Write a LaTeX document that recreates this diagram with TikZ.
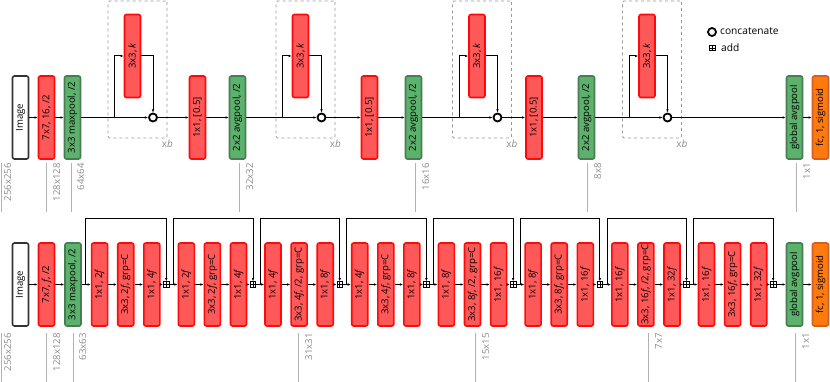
\documentclass[tikz,border=0pt]{standalone}
\usepackage{fontspec}
\setmainfont{Open Sans}
\usepackage{graphicx}
\usepackage{xcolor}
\usepackage{tikz}
\usetikzlibrary{arrows.meta, positioning, backgrounds, calc}

\definecolor{convfill}{RGB}{255,88,88}
\definecolor{convdraw}{RGB}{255,10,10}
\definecolor{poolfill}{RGB}{92,178,108}
\definecolor{pooldraw}{RGB}{72,125,84}
\definecolor{fcfill}{RGB}{255,122,14}
\definecolor{fcdraw}{RGB}{212,96,32}

\begin{document}
\begin{tikzpicture}[x=1pt, y=1pt, node distance=8.5pt]

\tikzset{
  layer/.style={rectangle, rounded corners=2pt, line width=1.6pt,
    minimum width=16pt, minimum height=83pt, inner sep=0pt,
    font=\fontsize{9.6}{10}\selectfont},
  convbox/.style={layer, draw=convdraw, fill=convfill},
  poolbox/.style={layer, draw=pooldraw, fill=poolfill},
  fcbox/.style={layer, draw=fcdraw, fill=fcfill},
  inputbox/.style={layer, draw=black!80, fill=white},
  catnode/.style={circle, draw=black, line width=1.8pt, fill=white,
    minimum size=8pt, inner sep=0pt},
  addnode/.style={rectangle, draw=black, line width=0.8pt, fill=white,
    minimum size=5.6pt, inner sep=0pt,
    path picture={\draw[line width=0.5pt]
      (path picture bounding box.north) -- (path picture bounding box.south)
      (path picture bounding box.west) -- (path picture bounding box.east);}},
  blockbox/.style={rectangle, draw=black!40, dashed, line width=0.8pt,
    rounded corners=1.5pt, minimum width=59pt, minimum height=137pt},
  blocklabel/.style={font=\fontsize{10}{11}\selectfont, text=black!45,
    anchor=north, inner sep=1.5pt},
  legendtext/.style={font=\fontsize{10.2}{11}\selectfont, anchor=west,
    inner sep=0pt},
  arrow/.style={-{Latex[length=3.2pt,width=2.6pt]}, line width=1pt, black},
  dimline/.style={draw=black!30, line width=0.8pt},
  dimlabel/.style={font=\fontsize{9.6}{10}\selectfont, text=black!45,
    rotate=90, anchor=north east, inner sep=0pt}
}

\useasboundingbox (0,0) rectangle (830,-382);

% ---- top row: DenseNet ----
\node[inputbox] (timg) at (20.5,-117.5) {\rotatebox{90}{Image}};
\node[convbox] (tconv) at (46.5,-117.5) {\rotatebox{90}{7x7, 16, /2}};
\node[poolbox] (tpool) at (72.5,-117.5) {\rotatebox{90}{3x3 maxpool, /2}};

\node[convbox] (tk1) at (132.5,-56) {\rotatebox{90}{3x3, \textit{k}}};
\node[catnode] (tcat1) at (153,-117.5) {};
\coordinate (tbr1) at (114.5,-117.5);
\node[convbox] (ttr1) at (197.5,-117.5) {\rotatebox{90}{1x1, [0.5]}};
\node[poolbox] (tap1) at (237.5,-117.5) {\rotatebox{90}{2x2 avgpool, /2}};

\node[convbox] (tk2) at (300.5,-56) {\rotatebox{90}{3x3, \textit{k}}};
\node[catnode] (tcat2) at (321.5,-117.5) {};
\coordinate (tbr2) at (282.5,-117.5);
\node[convbox] (ttr2) at (369.5,-117.5) {\rotatebox{90}{1x1, [0.5]}};
\node[poolbox] (tap2) at (413.5,-117.5) {\rotatebox{90}{2x2 avgpool, /2}};

\node[convbox] (tk3) at (477,-56) {\rotatebox{90}{3x3, \textit{k}}};
\node[catnode] (tcat3) at (497.5,-117.5) {};
\coordinate (tbr3) at (459,-117.5);
\node[convbox] (ttr3) at (534,-117.5) {\rotatebox{90}{1x1, [0.5]}};
\node[poolbox] (tap3) at (586.5,-117.5) {\rotatebox{90}{2x2 avgpool, /2}};

\node[convbox] (tk4) at (647,-56) {\rotatebox{90}{3x3, \textit{k}}};
\node[catnode] (tcat4) at (667.5,-117.5) {};
\coordinate (tbr4) at (629,-117.5);

\node[poolbox] (tgap) at (794.5,-117.5) {\rotatebox{90}{global avgpool}};
\node[fcbox] (tfc) at (820.5,-117.5) {\rotatebox{90}{fc, 1, sigmoid}};

\begin{scope}[on background layer]
  \node[blockbox] (tblk1) at (137.5,-69.5) {};
  \node[blockbox] (tblk2) at (305.5,-69.5) {};
  \node[blockbox] (tblk3) at (482,-69.5) {};
  \node[blockbox] (tblk4) at (652,-69.5) {};
\end{scope}
\node[blocklabel] (tlbl1) at (tblk1.south east) {x\textit{b}};
\node[blocklabel] (tlbl2) at (tblk2.south east) {x\textit{b}};
\node[blocklabel] (tlbl3) at (tblk3.south east) {x\textit{b}};
\node[blocklabel] (tlbl4) at (tblk4.south east) {x\textit{b}};

\draw[arrow] (timg)  -- (tconv);
\draw[arrow] (tconv) -- (tpool);
\draw[arrow] (tpool) -- (tcat1);
\draw[arrow] (tbr1)  |- (tk1);
\draw[arrow] (tk1)   -| (tcat1);
\draw[arrow] (tcat1) -- (ttr1);
\draw[arrow] (ttr1)  -- (tap1);
\draw[arrow] (tap1)  -- (tcat2);
\draw[arrow] (tbr2)  |- (tk2);
\draw[arrow] (tk2)   -| (tcat2);
\draw[arrow] (tcat2) -- (ttr2);
\draw[arrow] (ttr2)  -- (tap2);
\draw[arrow] (tap2)  -- (tcat3);
\draw[arrow] (tbr3)  |- (tk3);
\draw[arrow] (tk3)   -| (tcat3);
\draw[arrow] (tcat3) -- (ttr3);
\draw[arrow] (ttr3)  -- (tap3);
\draw[arrow] (tap3)  -- (tcat4);
\draw[arrow] (tbr4)  |- (tk4);
\draw[arrow] (tk4)   -| (tcat4);
\draw[arrow] (tcat4) -- (tgap);
\draw[arrow] (tgap)  -- (tfc);

% legend
\node[catnode] (lgcat) at (712,-32) {};
\node[legendtext] (lgcattxt) at (720,-31.5) {concatenate};
\node[addnode] (lgadd) at (712.5,-48) {};
\node[legendtext] (lgaddtxt) at (721,-47.5) {add};

% sizes, top row
\draw[dimline] (1,-163) -- (1,-212);
\draw[dimline] (46,-163) -- (46,-212);
\draw[dimline] (71,-163) -- (71,-212);
\draw[dimline] (239,-163) -- (239,-212);
\draw[dimline] (415,-163) -- (415,-212);
\draw[dimline] (587,-163) -- (587,-212);
\draw[dimline] (796,-163) -- (796,-212);
\node[dimlabel] (td1) at (4,-163)   {256x256};
\node[dimlabel] (td2) at (53,-163)  {128x128};
\node[dimlabel] (td3) at (77,-163)  {64x64};
\node[dimlabel] (td4) at (246,-163) {32x32};
\node[dimlabel] (td5) at (422,-163) {16x16};
\node[dimlabel] (td6) at (594,-163) {8x8};
\node[dimlabel] (td7) at (803,-163) {1x1};

% ---- bottom row: ResNeXt ----
\node[inputbox] (bimg) at (20.5,-284.5) {\rotatebox{90}{Image}};
\node[convbox] (bconv) at (46.5,-284.5) {\rotatebox{90}{7x7, \textit{f}, /2}};
\node[poolbox] (bpool) at (73,-284.5) {\rotatebox{90}{3x3 maxpool, /2}};

\node[convbox, right=9pt of bpool] (g1a) {\rotatebox{90}{1x1, 2\textit{f}}};
\node[convbox, right=of g1a] (g1b) {\rotatebox{90}{3x3, 2\textit{f}, grp=C}};
\node[convbox, right=of g1b] (g1c) {\rotatebox{90}{1x1, 4\textit{f}}};
\node[addnode, right=2.5pt of g1c] (add1) {};

\node[convbox, right=8pt of add1] (g2a) {\rotatebox{90}{1x1, 2\textit{f}}};
\node[convbox, right=of g2a] (g2b) {\rotatebox{90}{3x3, 2\textit{f}, grp=C}};
\node[convbox, right=of g2b] (g2c) {\rotatebox{90}{1x1, 4\textit{f}}};
\node[addnode, right=2.5pt of g2c] (add2) {};

\node[convbox, right=8pt of add2] (g3a) {\rotatebox{90}{1x1, 4\textit{f}}};
\node[convbox, right=of g3a] (g3b) {\rotatebox{90}{3x3, 4\textit{f}, /2, grp=C}};
\node[convbox, right=of g3b] (g3c) {\rotatebox{90}{1x1, 8\textit{f}}};
\node[addnode, right=2.5pt of g3c] (add3) {};

\node[convbox, right=8pt of add3] (g4a) {\rotatebox{90}{1x1, 4\textit{f}}};
\node[convbox, right=of g4a] (g4b) {\rotatebox{90}{3x3, 4\textit{f}, grp=C}};
\node[convbox, right=of g4b] (g4c) {\rotatebox{90}{1x1, 8\textit{f}}};
\node[addnode, right=2.5pt of g4c] (add4) {};

\node[convbox, right=8pt of add4] (g5a) {\rotatebox{90}{1x1, 8\textit{f}}};
\node[convbox, right=of g5a] (g5b) {\rotatebox{90}{3x3, 8\textit{f}, /2, grp=C}};
\node[convbox, right=of g5b] (g5c) {\rotatebox{90}{1x1, 16\textit{f}}};
\node[addnode, right=2.5pt of g5c] (add5) {};

\node[convbox, right=8pt of add5] (g6a) {\rotatebox{90}{1x1, 8\textit{f}}};
\node[convbox, right=of g6a] (g6b) {\rotatebox{90}{3x3, 8\textit{f}, grp=C}};
\node[convbox, right=of g6b] (g6c) {\rotatebox{90}{1x1, 16\textit{f}}};
\node[addnode, right=2.5pt of g6c] (add6) {};

\node[convbox, right=8pt of add6] (g7a) {\rotatebox{90}{1x1, 16\textit{f}}};
\node[convbox, right=of g7a] (g7b) {\rotatebox{90}{3x3, 16\textit{f}, /2, grp=C}};
\node[convbox, right=of g7b] (g7c) {\rotatebox{90}{1x1, 32\textit{f}}};
\node[addnode, right=2.5pt of g7c] (add7) {};

\node[convbox, right=8pt of add7] (g8a) {\rotatebox{90}{1x1, 16\textit{f}}};
\node[convbox, right=of g8a] (g8b) {\rotatebox{90}{3x3, 16\textit{f}, grp=C}};
\node[convbox, right=of g8b] (g8c) {\rotatebox{90}{1x1, 32\textit{f}}};
\node[addnode, right=2.5pt of g8c] (add8) {};

\node[poolbox] (bgap) at (794.5,-284.5) {\rotatebox{90}{global avgpool}};
\node[fcbox] (bfc) at (820.5,-284.5) {\rotatebox{90}{fc, 1, sigmoid}};

\coordinate (br1) at ($(g1a.west)+(-5,0)$);
\coordinate (br2) at ($(g2a.west)+(-4,0)$);
\coordinate (br3) at ($(g3a.west)+(-4,0)$);
\coordinate (br4) at ($(g4a.west)+(-4,0)$);
\coordinate (br5) at ($(g5a.west)+(-4,0)$);
\coordinate (br6) at ($(g6a.west)+(-4,0)$);
\coordinate (br7) at ($(g7a.west)+(-4,0)$);
\coordinate (br8) at ($(g8a.west)+(-4,0)$);

\draw[arrow] (bimg)  -- (bconv);
\draw[arrow] (bconv) -- (bpool);
\draw[arrow] (bpool) -- (g1a);
\draw[arrow] (g1a) -- (g1b);
\draw[arrow] (g1b) -- (g1c);
\draw[arrow] (g1c) -- (add1);
\draw[arrow] (add1) -- (g2a);
\draw[arrow] (g2a) -- (g2b);
\draw[arrow] (g2b) -- (g2c);
\draw[arrow] (g2c) -- (add2);
\draw[arrow] (add2) -- (g3a);
\draw[arrow] (g3a) -- (g3b);
\draw[arrow] (g3b) -- (g3c);
\draw[arrow] (g3c) -- (add3);
\draw[arrow] (add3) -- (g4a);
\draw[arrow] (g4a) -- (g4b);
\draw[arrow] (g4b) -- (g4c);
\draw[arrow] (g4c) -- (add4);
\draw[arrow] (add4) -- (g5a);
\draw[arrow] (g5a) -- (g5b);
\draw[arrow] (g5b) -- (g5c);
\draw[arrow] (g5c) -- (add5);
\draw[arrow] (add5) -- (g6a);
\draw[arrow] (g6a) -- (g6b);
\draw[arrow] (g6b) -- (g6c);
\draw[arrow] (g6c) -- (add6);
\draw[arrow] (add6) -- (g7a);
\draw[arrow] (g7a) -- (g7b);
\draw[arrow] (g7b) -- (g7c);
\draw[arrow] (g7c) -- (add7);
\draw[arrow] (add7) -- (g8a);
\draw[arrow] (g8a) -- (g8b);
\draw[arrow] (g8b) -- (g8c);
\draw[arrow] (g8c) -- (add8);
\draw[arrow] (add8) -- (bgap);
\draw[arrow] (bgap) -- (bfc);

% shortcut connections
\draw[arrow] (br1) -- ++(0,65.5) -| (add1);
\draw[arrow] (br2) -- ++(0,65.5) -| (add2);
\draw[arrow] (br3) -- ++(0,65.5) -| (add3);
\draw[arrow] (br4) -- ++(0,65.5) -| (add4);
\draw[arrow] (br5) -- ++(0,65.5) -| (add5);
\draw[arrow] (br6) -- ++(0,65.5) -| (add6);
\draw[arrow] (br7) -- ++(0,65.5) -| (add7);
\draw[arrow] (br8) -- ++(0,65.5) -| (add8);

% sizes, bottom row
\draw[dimline] (1,-333) -- (1,-382);
\draw[dimline] (46,-333) -- (46,-382);
\draw[dimline] (73,-333) -- (73,-382);
\draw[dimline] (298,-333) -- (298,-382);
\draw[dimline] (475,-333) -- (475,-382);
\draw[dimline] (648,-333) -- (648,-382);
\draw[dimline] (795,-333) -- (795,-382);
\node[dimlabel] (bd1) at (4,-333)   {256x256};
\node[dimlabel] (bd2) at (53,-333)  {128x128};
\node[dimlabel] (bd3) at (79,-333)  {63x63};
\node[dimlabel] (bd4) at (305,-333) {31x31};
\node[dimlabel] (bd5) at (482,-333) {15x15};
\node[dimlabel] (bd6) at (655,-333) {7x7};
\node[dimlabel] (bd7) at (802,-333) {1x1};

\end{tikzpicture}
\end{document}
